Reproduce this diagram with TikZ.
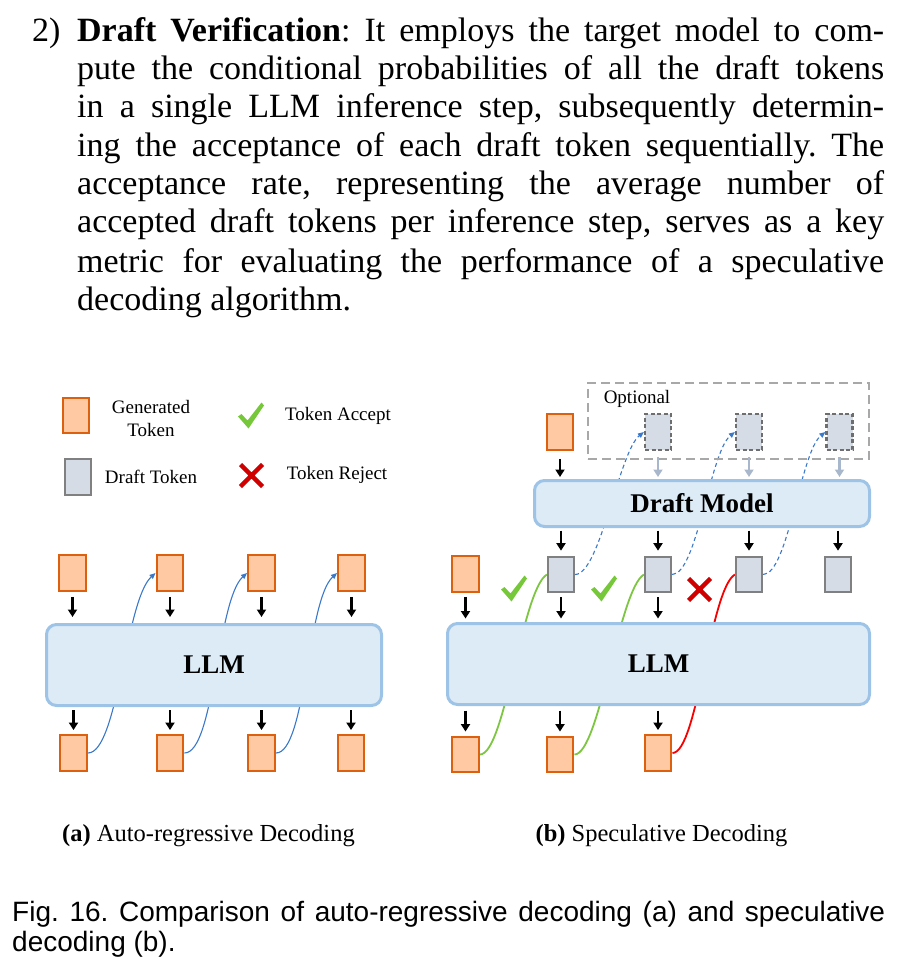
\documentclass[tikz,border=0pt]{standalone}
\usepackage{fontspec}
\setmainfont{Liberation Serif}
\newfontfamily\capfont{Liberation Sans}
\usetikzlibrary{arrows.meta}
\pgfdeclarelayer{bg}
\pgfsetlayers{bg,main}
\definecolor{tokfill}{HTML}{FFC9A3}
\definecolor{tokdraw}{HTML}{DD600F}
\definecolor{dtokfill}{HTML}{D6DCE5}
\definecolor{dtokdraw}{HTML}{808080}
\definecolor{otokdraw}{HTML}{6E6E6E}
\definecolor{modelfill}{HTML}{DDEBF7}
\definecolor{modeldraw}{HTML}{9DC3E6}
\definecolor{optdraw}{HTML}{A8A8A8}
\definecolor{lightarr}{HTML}{A9B7CC}
\definecolor{blucurve}{HTML}{3A78C9}
\definecolor{grncurve}{HTML}{7DC642}
\definecolor{chkgreen}{HTML}{76C83A}
\definecolor{redcurve}{HTML}{F80000}
\definecolor{rejred}{HTML}{CF0000}
\frenchspacing
\begin{document}
\begin{tikzpicture}[x=1pt,y=-1pt,
  gtok/.style={draw=tokdraw,fill=tokfill,line width=2.4pt,minimum width=26.5pt,minimum height=35.5pt,inner sep=0pt},
  dtok/.style={draw=dtokdraw,fill=dtokfill,line width=2.2pt,minimum width=26pt,minimum height=35.5pt,inner sep=0pt},
  otok/.style={dtok,draw=otokdraw,dash pattern=on 4pt off 2.5pt},
  model/.style={draw=modeldraw,fill=modelfill,line width=3pt,rounded corners=10pt,inner sep=0pt,font=\fontsize{27}{30}\selectfont\bfseries},
  lbl/.style={inner sep=0pt,font=\fontsize{19}{23}\selectfont},
  arr/.style={-{Triangle[length=7.5pt,width=9pt]},line width=2.3pt,black},
  larr/.style={arr,lightarr},
  blu/.style={-{Triangle[length=6pt,width=5pt]},line width=1.1pt,blucurve},
  bludash/.style={blu,dash pattern=on 4pt off 3pt},
  grn/.style={line width=1.8pt,grncurve},
  rdc/.style={line width=1.8pt,redcurve},
  body/.style={anchor=base west,inner sep=0pt,font=\fontsize{34}{38}\selectfont},
  chk/.pic={\fill[chkgreen] (-13,1) -- (-9.5,-1.5) -- (-3.5,5) -- (10.5,-13) -- (13,-10) -- (-2.5,13) -- cycle;},
  rejx/.pic={\draw[rejred,line width=4.5pt] (-11,-11) -- (11,11) (-11,11) -- (11,-11);}
]
\useasboundingbox (0,0) rectangle (904,976);

% ---------- top paragraph ----------
\node[body] (p0) at (32,42) {2)};
\node[body] (p1) at (77,42) {\makebox[807pt][s]{\textbf{Draft Verification}: It employs the target model to com-}};
\node[body] (p2) at (77,80) {\makebox[807pt][s]{pute the conditional probabilities of all the draft tokens}};
\node[body] (p3) at (77,118) {\makebox[807pt][s]{in a single LLM inference step, subsequently determin-}};
\node[body] (p4) at (77,157) {\makebox[807pt][s]{ing the acceptance of each draft token sequentially. The}};
\node[body] (p5) at (77,195) {\makebox[807pt][s]{acceptance rate, representing the average number of}};
\node[body] (p6) at (77,233) {\makebox[807pt][s]{accepted draft tokens per inference step, serves as a key}};
\node[body] (p7) at (77,272) {\makebox[807pt][s]{metric for evaluating the performance of a speculative}};
\node[body] (p8) at (77,310) {decoding algorithm.};

% ---------- legend ----------
\node[gtok] (lg) at (76,415.5) {};
\node[lbl,align=center] (lgt) at (151,418.5) {Generated\\Token};
\node[dtok] (ld) at (78,477) {};
\node[lbl] (ldt) at (151,477) {Draft Token};
\pic at (251,415.5) {chk};
\node[lbl] (lat) at (338,416) {Token Accept};
\pic at (251.5,475.5) {rejx};
\node[lbl] (lrt) at (337,475) {Token Reject};

% ---------- (a) auto-regressive ----------
\foreach \i/\x in {1/72.5,2/170,3/261.5,4/351.5} \node[gtok] (at\i) at (\x,573) {};
\node[model,minimum width=335pt,minimum height=81pt] (llma) at (214,665) {LLM};
\foreach \i/\x in {1/73.5,2/170,3/261.5,4/351} \node[gtok] (ab\i) at (\x,753) {};
\foreach \i in {1,2,3,4} {
  \draw[arr,shorten <=5pt,shorten >=6pt] (at\i.south) -- (at\i.south |- llma.north);
  \draw[arr,shorten <=3pt,shorten >=4pt] (ab\i.north |- llma.south) -- (ab\i.north);
}
\begin{pgfonlayer}{bg}
\draw[blu] (ab1.east) .. controls +(30,0) and +(-30,27) .. (at2.west);
\draw[blu] (ab2.east) .. controls +(30,0) and +(-30,27) .. (at3.west);
\draw[blu] (ab3.east) .. controls +(30,0) and +(-30,27) .. (at4.west);
\end{pgfonlayer}

% ---------- (b) speculative ----------
\node[draw=optdraw,line width=2.5pt,dash pattern=on 9pt off 5pt,minimum width=281pt,minimum height=76pt,inner sep=0pt] (opt) at (728.5,421) {};
\node[lbl] (optl) at (637,399) {Optional};
\node[gtok] (bin) at (560,432) {};
\node[otok] (o1) at (658,432) {};
\node[otok] (o2) at (749,432) {};
\node[otok] (o3) at (839.5,432) {};
\node[model,minimum width=335pt,minimum height=46pt] (dm) at (702,503.5) {Draft Model};
\node[dtok] (d1) at (561,574.5) {};
\node[dtok] (d2) at (658,574.5) {};
\node[dtok] (d3) at (749,574.5) {};
\node[dtok] (d4) at (838,574.5) {};
\node[gtok] (bl) at (465.5,574) {};
\node[model,minimum width=422pt,minimum height=81pt] (llmb) at (658.5,664) {LLM};
\node[gtok] (bb1) at (465.5,754.5) {};
\node[gtok] (bb2) at (560,754.5) {};
\node[gtok] (bb3) at (658,753) {};

\draw[arr,shorten <=8pt,shorten >=2pt] (bin.south) -- (bin.south |- dm.north);
\foreach \n in {o1,o2,o3}
  \draw[larr,shorten <=6pt,shorten >=2pt] (\n.south) -- (\n.south |- dm.north);
\foreach \n in {d1,d2,d3,d4}
  \draw[arr,shorten <=2.5pt,shorten >=5pt] (\n.north |- dm.south) -- (\n.north);
\foreach \n in {bl,d1,d2}
  \draw[arr,shorten <=4pt,shorten >=3.5pt] (\n.south) -- (\n.south |- llmb.north);
\foreach \n in {bb1,bb2,bb3}
  \draw[arr,shorten <=4.5pt,shorten >=4pt] (\n.north |- llmb.south) -- (\n.north);

\begin{pgfonlayer}{bg}
\draw[bludash] (d1.east) .. controls +(25,0) and +(-25,20) .. (o1.west);
\draw[bludash] (d2.east) .. controls +(25,0) and +(-25,20) .. (o2.west);
\draw[bludash] (d3.east) .. controls +(25,0) and +(-25,20) .. (o3.west);
\draw[grn] (bb1.east) .. controls +(25,0) and +(-25,15) .. (d1.west);
\draw[grn] (bb2.east) .. controls +(25,0) and +(-25,15) .. (d2.west);
\draw[rdc] (bb3.east) .. controls +(25,0) and +(-25,15) .. (d3.west);
\end{pgfonlayer}
\pic at (514,588.5) {chk};
\pic at (604,588.5) {chk};
\pic at (699.5,589.5) {rejx};

% ---------- sub-captions and caption ----------
\node[anchor=base,inner sep=0pt,font=\fontsize{24.5}{28}\selectfont] (capa) at (208.5,841) {\textbf{(a)} Auto-regressive Decoding};
\node[anchor=base,inner sep=0pt,font=\fontsize{24.5}{28}\selectfont] (capb) at (661.5,841) {\textbf{(b)} Speculative Decoding};
\node[anchor=base west,inner sep=0pt,font=\capfont\fontsize{28}{30}\selectfont] (cap1) at (12,921) {\makebox[873pt][s]{Fig. 16. Comparison of auto-regressive decoding (a) and speculative}};
\node[anchor=base west,inner sep=0pt,font=\capfont\fontsize{28}{30}\selectfont] (cap2) at (12,951) {decoding (b).};
\end{tikzpicture}
\end{document}
